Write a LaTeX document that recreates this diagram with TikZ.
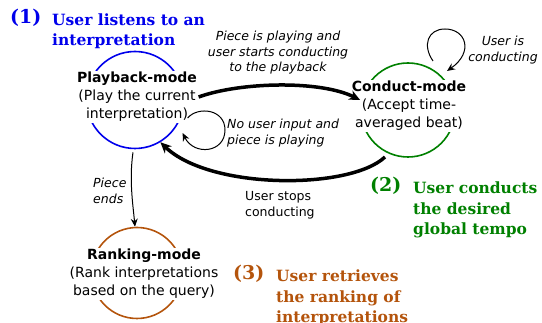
\documentclass[tikz,border=0pt]{standalone}
\usepackage{fontspec}
\setmainfont{DejaVu Sans}
\newfontfamily\headfont{DejaVu Serif}
\usetikzlibrary{arrows.meta,calc}
\definecolor{pbblue}{RGB}{0,0,235}
\definecolor{cdgreen}{RGB}{0,128,0}
\definecolor{rkbrown}{RGB}{180,84,12}

\begin{document}
\begin{tikzpicture}[x=1pt,y=-1pt,
  ring/.style={circle,draw,line width=1.6pt,inner sep=0pt,minimum size=#1},
  modetext/.style={fill=white,align=center,inner sep=1.5pt,font=\fontsize{14}{18}\selectfont},
  edgelabel/.style={align=center,inner sep=0pt,font=\fontsize{12.5}{15.5}\selectfont\itshape},
  plainlabel/.style={align=left,inner sep=0pt,font=\fontsize{12.5}{15.5}\selectfont},
  heading/.style={align=left,inner sep=0pt,font=\headfont\bfseries\fontsize{15.5}{20.5}\selectfont},
  tag/.style={inner sep=0pt,font=\headfont\bfseries\fontsize{19}{20}\selectfont},
  heavy/.style={line width=3.5pt,-{Stealth[length=11pt,width=10pt]}},
  lightarrow/.style={line width=1pt,-{Stealth[length=8pt,width=7pt]}}]

\useasboundingbox (0,0) rectangle (542,323);

% the three modes: a ring with a white text panel over it
\node[ring=97pt,draw=pbblue] (pbc) at (135,100) {};
\node[modetext] (pb) at (137,97) {\textbf{Playback-mode}\\(Play the current\\interpretation)};
\node[ring=94pt,draw=cdgreen] (cdc) at (408,110) {};
\node[modetext] (cd) at (409,106) {\textbf{Conduct-mode}\\(Accept time-\\averaged beat)};
\node[ring=91pt,draw=rkbrown] (rkc) at (137,273) {};
\node[modetext] (rk) at (144,274) {\textbf{Ranking-mode}\\(Rank interpretations\\based on the query)};

% transitions
\draw[heavy] (pb.east) .. controls (240,82) and (320,80) .. ($(cd.west)+(10,-6)$);
\draw[heavy] ($(cdc)+(-23,47)$) .. controls (350,190) and (210,190) .. (pbc.-59);
\draw[lightarrow] ($(pb.east)+(-11,21)$) .. controls (198,106) and (225,109) .. (225,130)
  .. controls (225,153) and (194,156) .. ($(pb.east)+(-16,36)$);
\draw[lightarrow] ($(cdc)+(25,-49)$) .. controls (422,45) and (428,29) .. (445,29)
  .. controls (466,29) and (474,52) .. ($(cdc)+(39,-39)$);
\draw[lightarrow] ($(pbc.south)+(-2,3)$) .. controls (129,180) and (133,205) .. ($(rkc.north)+(-2,0)$);

% transition labels
\node[edgelabel] (l1) at (278,53) {Piece is playing and\\user starts conducting\\to the playback};
\node[edgelabel] (l2) at (503,50) {User is\\conducting};
\node[edgelabel,align=left,anchor=west] (l3) at (227,133) {No user input and\\piece is playing};
\node[edgelabel,align=left,anchor=west] (l4) at (93,191) {Piece\\ends};
\node[plainlabel,anchor=west] (l5) at (245,205) {User stops\\conducting};

% numbered captions
\node[tag,text=pbblue,anchor=west] (t1) at (10,18) {(1)};
\node[heading,text=pbblue,anchor=west] (h1) at (52,31) {User listens to an\\interpretation};
\node[tag,text=cdgreen,anchor=west] (t2) at (370,186) {(2)};
\node[heading,text=cdgreen,anchor=west] (h2) at (413,210) {User conducts\\the desired\\global tempo};
\node[tag,text=rkbrown,anchor=west] (t3) at (233,274) {(3)};
\node[heading,text=rkbrown,anchor=west] (h3) at (276,298) {User retrieves\\the ranking of\\interpretations};
\end{tikzpicture}
\end{document}
